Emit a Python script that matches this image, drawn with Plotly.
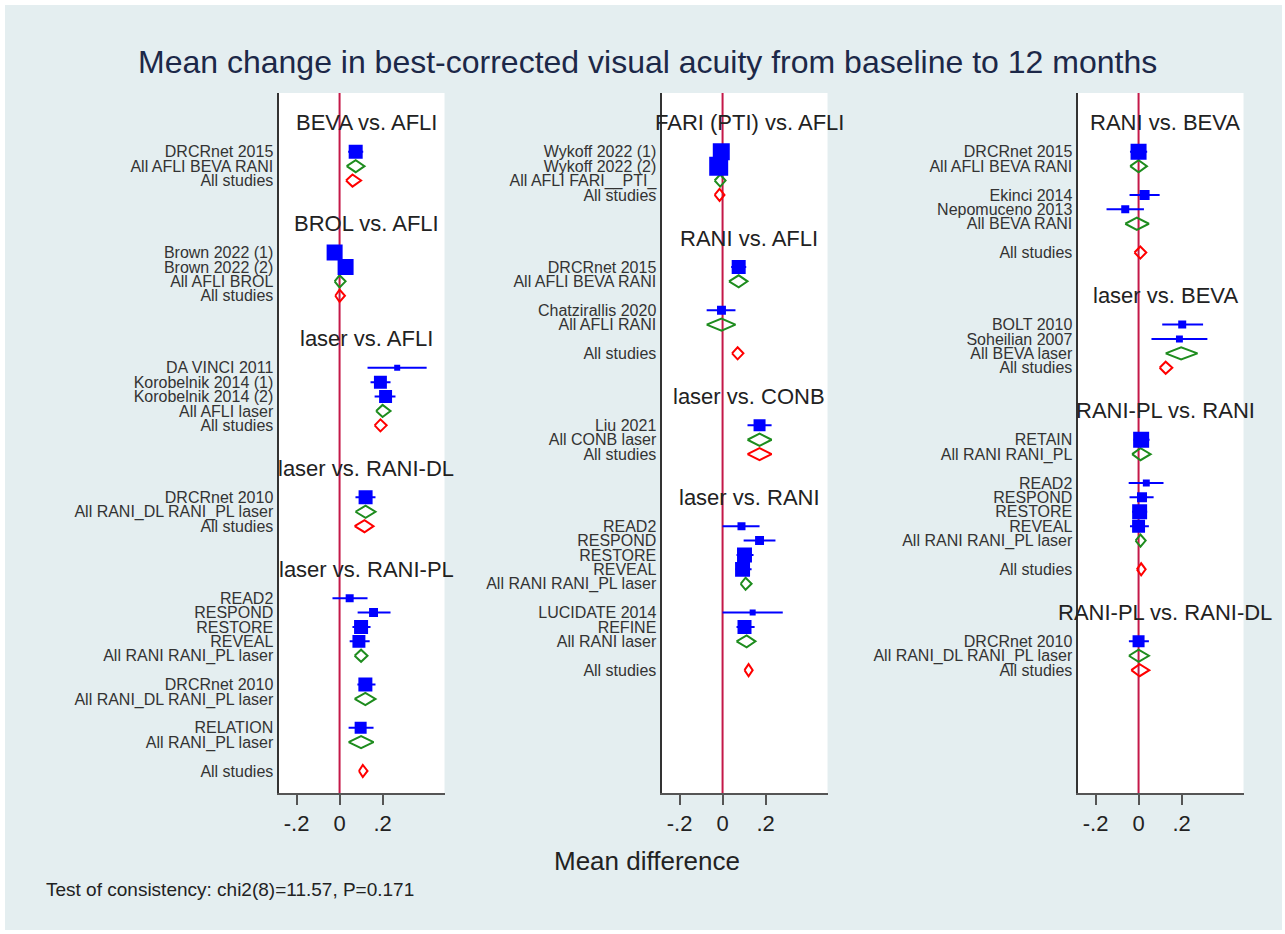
import math
import plotly.graph_objects as go

# ---------------------------------------------------------------------------
# Data: row kinds  T = comparison heading, S = study, P = pooled by design,
#                  A = all studies (network estimate)
# ---------------------------------------------------------------------------

# Left column
p1_label = ["BEVA vs. AFLI", "DRCRnet 2015", "All AFLI BEVA RANI", "All studies",
            "BROL vs. AFLI", "Brown 2022 (1)", "Brown 2022 (2)", "All AFLI BROL", "All studies",
            "laser vs. AFLI", "DA VINCI 2011", "Korobelnik 2014 (1)", "Korobelnik 2014 (2)",
            "All AFLI laser", "All studies",
            "laser vs. RANI-DL", "DRCRnet 2010", "All RANI_DL RANI_PL laser", "All studies",
            "laser vs. RANI-PL", "READ2", "RESPOND", "RESTORE", "REVEAL", "All RANI RANI_PL laser",
            "DRCRnet 2010", "All RANI_DL RANI_PL laser", "RELATION", "All RANI_PL laser",
            "All studies"]
p1_kind = ["T", "S", "P", "A",
           "T", "S", "S", "P", "A",
           "T", "S", "S", "S", "P", "A",
           "T", "S", "P", "A",
           "T", "S", "S", "S", "S", "P", "S", "P", "S", "P", "A"]
p1_est = [None, 0.075, 0.075, 0.060,
          None, -0.023, 0.028, 0.000, 0.000,
          None, 0.268, 0.190, 0.214, 0.200, 0.190,
          None, 0.121, 0.121, 0.116,
          None, 0.047, 0.158, 0.100, 0.090, 0.100, 0.120, 0.120, 0.098, 0.100, 0.108]
p1_lo = [None, 0.040, 0.033, 0.030,
         None, -0.050, 0.000, -0.023, -0.020,
         None, 0.130, 0.144, 0.163, 0.170, 0.163,
         None, 0.074, 0.074, 0.070,
         None, -0.033, 0.084, 0.060, 0.047, 0.070, 0.083, 0.070, 0.042, 0.042, 0.090]
p1_hi = [None, 0.110, 0.116, 0.100,
         None, 0.005, 0.056, 0.028, 0.025,
         None, 0.405, 0.237, 0.260, 0.237, 0.219,
         None, 0.167, 0.167, 0.158,
         None, 0.130, 0.237, 0.144, 0.140, 0.130, 0.167, 0.167, 0.158, 0.158, 0.130]
p1_wt = [None, 49, None, None,
         None, 64, 64, None, None,
         None, 9, 42, 42, None, None,
         None, 49, None, None,
         None, 16, 20, 49, 42, None, 49, None, 36, None, None]

# Middle column
p2_label = ["FARI (PTI) vs. AFLI", "Wykoff 2022 (1)", "Wykoff 2022 (2)", "All AFLI FARI__PTI_",
            "All studies",
            "RANI vs. AFLI", "DRCRnet 2015", "All AFLI BEVA RANI", "Chatzirallis 2020",
            "All AFLI RANI", "All studies",
            "laser vs. CONB", "Liu 2021", "All CONB laser", "All studies",
            "laser vs. RANI", "READ2", "RESPOND", "RESTORE", "REVEAL", "All RANI RANI_PL laser",
            "LUCIDATE 2014", "REFINE", "All RANI laser", "All studies"]
p2_kind = ["T", "S", "S", "P", "A",
           "T", "S", "P", "S", "P", "A",
           "T", "S", "P", "A",
           "T", "S", "S", "S", "S", "P", "S", "S", "P", "A"]
p2_est = [None, -0.006, -0.018, -0.011, -0.014,
          None, 0.075, 0.075, -0.005, -0.005, 0.070,
          None, 0.172, 0.172, 0.172,
          None, 0.088, 0.172, 0.102, 0.093, 0.107, 0.140, 0.102, 0.112, 0.121]
p2_lo = [None, -0.030, -0.042, -0.037, -0.037,
         None, 0.040, 0.030, -0.074, -0.074, 0.044,
         None, 0.116, 0.116, 0.116,
         None, 0.000, 0.098, 0.065, 0.060, 0.084, 0.000, 0.065, 0.065, 0.102]
p2_hi = [None, 0.018, 0.006, 0.014, 0.009,
         None, 0.110, 0.116, 0.060, 0.060, 0.097,
         None, 0.228, 0.228, 0.228,
         None, 0.172, 0.246, 0.144, 0.135, 0.135, 0.280, 0.149, 0.153, 0.140]
p2_wt = [None, 72, 90, None, None,
         None, 49, None, 20, None, None,
         None, 36, None, None,
         None, 16, 20, 56, 56, None, 9, 49, None, None]

# Right column
p3_label = ["RANI vs. BEVA", "DRCRnet 2015", "All AFLI BEVA RANI", "Ekinci 2014",
            "Nepomuceno 2013", "All BEVA RANI", "All studies",
            "laser vs. BEVA", "BOLT 2010", "Soheilian 2007", "All BEVA laser", "All studies",
            "RANI-PL vs. RANI", "RETAIN", "All RANI RANI_PL", "READ2", "RESPOND", "RESTORE",
            "REVEAL", "All RANI RANI_PL laser", "All studies",
            "RANI-PL vs. RANI-DL", "DRCRnet 2010", "All RANI_DL RANI_PL laser", "All studies"]
p3_kind = ["T", "S", "P", "S", "S", "P", "A",
           "T", "S", "S", "P", "A",
           "T", "S", "P", "S", "S", "S", "S", "P", "A",
           "T", "S", "P", "A"]
p3_est = [None, 0.000, 0.000, 0.028, -0.062, -0.008, 0.008,
          None, 0.203, 0.190, 0.198, 0.126,
          None, 0.012, 0.009, 0.036, 0.016, 0.005, 0.000, 0.009, 0.012,
          None, 0.000, 0.000, 0.005]
p3_lo = [None, -0.040, -0.039, -0.042, -0.149, -0.062, -0.019,
         None, 0.110, 0.060, 0.126, 0.098,
         None, -0.023, -0.030, -0.046, -0.042, -0.030, -0.040, -0.014, -0.008,
         None, -0.045, -0.045, -0.034]
p3_hi = [None, 0.040, 0.039, 0.098, 0.025, 0.048, 0.036,
         None, 0.300, 0.320, 0.274, 0.157,
         None, 0.051, 0.056, 0.116, 0.070, 0.040, 0.048, 0.033, 0.033,
         None, 0.048, 0.048, 0.050]
p3_wt = [None, 64, None, 25, 16, None, None,
         None, 16, 12, None, None,
         None, 64, None, 12, 25, 56, 42, None, None,
         None, 36, None, None]

x_ticks = [-0.2, 0.0, 0.2]
x_ticktext = ["-.2", "0", ".2"]

title_text = "Mean change in best-corrected visual acuity from baseline to 12 months"
xaxis_title = "Mean difference"
note_text = "Test of consistency: chi2(8)=11.57, P=0.171"

# ---------------------------------------------------------------------------
# Layout constants
# ---------------------------------------------------------------------------
W, H = 1285, 934
FONT = "Arial, Liberation Sans, sans-serif"
BG = "#e4eef0"
BLUE = "#0000ff"
GREEN = "#1e8c1e"
RED = "#ff0000"
ZERO = "#c41848"

X_RANGE = [-0.284, 0.488]
Y_RANGE = [46.53, -2.08]          # rows, top to bottom
PANEL_LEFT = [278.5, 661.5, 1077.5]
PANEL_WIDTH = 166
PANEL_TOP, PANEL_BOTTOM = 93, 793
DIAMOND_HALF = 0.42


def row_positions(kinds):
    """Row index of each entry: heading, blank, studies / pooled blocks, all studies."""
    pos, r, prev, n_pooled = [], 0, None, 0
    for i, k in enumerate(kinds):
        if k == "T":
            if i > 0:
                r += 2
            pos.append(r)
            r += 2
            n_pooled = 0
        elif k == "S":
            if prev == "P":
                r += 1
            pos.append(r)
            r += 1
        elif k == "P":
            pos.append(r)
            r += 1
            n_pooled += 1
        else:  # "A"
            if n_pooled > 1:
                r += 1
            pos.append(r)
            r += 1
        prev = k
    return pos


panels = [
    (p1_label, p1_kind, p1_est, p1_lo, p1_hi, p1_wt),
    (p2_label, p2_kind, p2_est, p2_lo, p2_hi, p2_wt),
    (p3_label, p3_kind, p3_est, p3_lo, p3_hi, p3_wt),
]

fig = go.Figure()
annotations = []
layout_axes = {}

for n, (labels, kinds, est, lo, hi, wt) in enumerate(panels, start=1):
    xa = "x" if n == 1 else f"x{n}"
    ya = "y" if n == 1 else f"y{n}"
    rows = row_positions(kinds)

    # vertical reference line at zero
    fig.add_trace(go.Scatter(x=[0, 0], y=Y_RANGE, mode="lines",
                             line=dict(color=ZERO, width=2),
                             xaxis=xa, yaxis=ya, hoverinfo="skip", showlegend=False))

    # pooled diamonds (green: by design, red: all studies)
    for kind_code, color in (("P", GREEN), ("A", RED)):
        dx, dy = [], []
        for k, r, e, l, h in zip(kinds, rows, est, lo, hi):
            if k != kind_code:
                continue
            dx += [l, e, h, e, l, None]
            dy += [r, r - DIAMOND_HALF, r, r + DIAMOND_HALF, r, None]
        fig.add_trace(go.Scatter(x=dx, y=dy, mode="lines",
                                 line=dict(color=color, width=2),
                                 xaxis=xa, yaxis=ya, hoverinfo="skip", showlegend=False))

    # individual studies: weighted squares with confidence intervals
    sx, sy, sp, sm, ss = [], [], [], [], []
    for k, r, e, l, h, w in zip(kinds, rows, est, lo, hi, wt):
        if k != "S":
            continue
        sx.append(e)
        sy.append(r)
        sp.append(h - e)
        sm.append(e - l)
        ss.append(2 * math.sqrt(w))
    fig.add_trace(go.Scatter(
        x=sx, y=sy, mode="markers",
        marker=dict(symbol="square", size=ss, color=BLUE, opacity=1, line=dict(width=0)),
        error_x=dict(type="data", symmetric=False, array=sp, arrayminus=sm,
                     color=BLUE, thickness=2, width=0),
        xaxis=xa, yaxis=ya, showlegend=False))

    # comparison headings
    for k, r, lab in zip(kinds, rows, labels):
        if k == "T":
            annotations.append(dict(x=0.125, y=r, xref=xa, yref=ya, text=lab,
                                    showarrow=False, xanchor="center", yanchor="middle",
                                    font=dict(family=FONT, size=22, color="#222222")))

    tickvals = [r for k, r in zip(kinds, rows) if k != "T"]
    ticktext = [lab for k, lab in zip(kinds, labels) if k != "T"]

    x0 = PANEL_LEFT[n - 1] / W
    x1 = (PANEL_LEFT[n - 1] + PANEL_WIDTH) / W
    layout_axes["xaxis" if n == 1 else f"xaxis{n}"] = dict(
        domain=[x0, x1], range=X_RANGE, anchor=ya,
        tickvals=x_ticks, ticktext=x_ticktext, ticks="outside", ticklen=10,
        tickwidth=2, tickcolor="#555555", showline=True, linecolor="#555555",
        linewidth=2, showgrid=False, zeroline=False, fixedrange=True,
        tickfont=dict(family=FONT, size=22, color="#222222"))
    layout_axes["yaxis" if n == 1 else f"yaxis{n}"] = dict(
        domain=[1 - PANEL_BOTTOM / H, 1 - PANEL_TOP / H], range=Y_RANGE, anchor=xa,
        tickvals=tickvals, ticktext=ticktext, ticks="", showline=True,
        linecolor="#333333", linewidth=2, showgrid=False, zeroline=False,
        fixedrange=True, ticklabelstandoff=0,
        tickfont=dict(family=FONT, size=16, color="#333333"))

annotations += [
    dict(x=647 / W, y=1 - 62 / H, xref="paper", yref="paper", text=title_text,
         showarrow=False, xanchor="center", yanchor="middle",
         font=dict(family=FONT, size=32, color="#1c2848")),
    dict(x=647 / W, y=1 - 861 / H, xref="paper", yref="paper", text=xaxis_title,
         showarrow=False, xanchor="center", yanchor="middle",
         font=dict(family=FONT, size=26, color="#222222")),
    dict(x=44 / W, y=1 - 889 / H, xref="paper", yref="paper", text=note_text,
         showarrow=False, xanchor="left", yanchor="middle",
         font=dict(family=FONT, size=19, color="#222222")),
]

# thin white frame around the graph region
frame = [
    dict(type="rect", xref="paper", yref="paper", x0=0, x1=5 / W, y0=0, y1=1),
    dict(type="rect", xref="paper", yref="paper", x0=1 - 3 / W, x1=1, y0=0, y1=1),
    dict(type="rect", xref="paper", yref="paper", x0=0, x1=1, y0=1 - 5 / H, y1=1),
    dict(type="rect", xref="paper", yref="paper", x0=0, x1=1, y0=0, y1=4 / H),
]
for s in frame:
    s.update(fillcolor="white", line=dict(width=0), layer="above")

fig.update_layout(
    width=W, height=H,
    margin=dict(l=0, r=0, t=0, b=0),
    paper_bgcolor=BG, plot_bgcolor="white",
    font=dict(family=FONT),
    annotations=annotations, shapes=frame,
    showlegend=False,
    **layout_axes,
)

fig.write_html("out.html", config={"displayModeBar": False})
